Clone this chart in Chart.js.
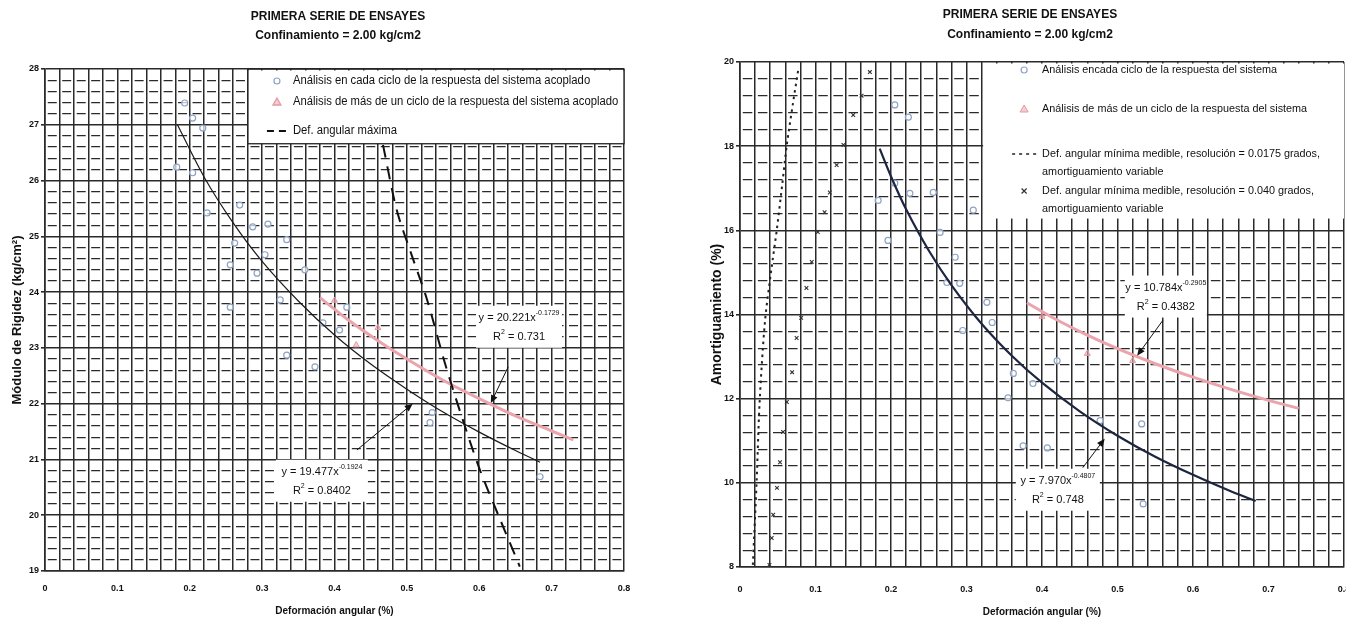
<!DOCTYPE html>
<html lang="es">
<head>
<meta charset="utf-8">
<title>Primera serie de ensayes</title>
<script src="https://cdn.jsdelivr.net/npm/chart.js@4.4.1/dist/chart.umd.min.js"></script>
<style>
    html, body { margin: 0; padding: 0; background: #fff; overflow: hidden; }
    body { width: 1346px; height: 621px; position: relative; }
    canvas { position: absolute; top: 0; }
    #graficoRigidez { left: 0; }
    #graficoAmortiguamiento { left: 680px; }
</style>
</head>
<body>
<canvas id="graficoRigidez" width="672" height="621"></canvas>
<canvas id="graficoAmortiguamiento" width="700" height="621"></canvas>
<script>
// Ticks de los ejes
const ticksDeformacion = [0, 0.1, 0.2, 0.3, 0.4, 0.5, 0.6, 0.7, 0.8];
const ticksRigidez = [19, 20, 21, 22, 23, 24, 25, 26, 27, 28];
const ticksAmortiguamiento = [8, 10, 12, 14, 16, 18, 20];

// ---- Módulo de rigidez ----
// análisis en cada ciclo de la respuesta del sistema acoplado
const defCicloRig = [0.193, 0.204, 0.218, 0.182, 0.204, 0.269, 0.224, 0.287, 0.308, 0.334, 0.262, 0.304, 0.256,
    0.293, 0.359, 0.256, 0.325, 0.384, 0.334, 0.373, 0.407, 0.417, 0.535, 0.532, 0.684];
const rigCiclo = [27.39, 27.12, 26.94, 26.24, 26.14, 25.56, 25.42, 25.17, 25.22, 24.94, 24.88, 24.67, 24.49,
    24.34, 24.40, 23.73, 23.86, 23.45, 22.87, 22.66, 23.32, 23.73, 21.84, 21.66, 20.69];
// análisis de más de un ciclo
const defVariosRig = [0.400, 0.460, 0.430];
const rigVarios = [23.85, 23.36, 23.05];
// def. angular máxima
const defMaxima = [0.467, 0.486, 0.507, 0.528, 0.552, 0.576, 0.601, 0.628, 0.656];
const rigMaxima = [26.64, 25.47, 24.65, 23.86, 22.75, 21.76, 20.81, 19.95, 19.08];
// ajustes potenciales
const defAjusteRig = [0.183, 0.22, 0.26, 0.30, 0.35, 0.40, 0.45, 0.50, 0.55, 0.60, 0.65, 0.684];
const rigAjuste = [27.00, 26.06, 25.24, 24.55, 23.84, 23.23, 22.71, 22.26, 21.85, 21.49, 21.16, 20.95];
const defAjusteRigVarios = [0.38, 0.42, 0.46, 0.50, 0.55, 0.60, 0.65, 0.70, 0.73];
const rigAjusteVarios = [23.90, 23.49, 23.13, 22.80, 22.42, 22.09, 21.78, 21.51, 21.35];

// ---- Amortiguamiento ----
const defCicloAm = [0.205, 0.223, 0.183, 0.205, 0.225, 0.256, 0.309, 0.196, 0.265, 0.285, 0.274, 0.291, 0.327,
    0.334, 0.295, 0.362, 0.355, 0.420, 0.388, 0.407, 0.375, 0.477, 0.532, 0.534];
const amCiclo = [18.98, 18.69, 16.71, 17.12, 16.88, 16.90, 16.48, 15.76, 15.95, 15.36, 14.76, 14.74, 14.29,
    13.81, 13.62, 12.60, 12.02, 12.90, 12.36, 10.83, 10.88, 11.48, 11.40, 9.50];
const defVariosAm = [0.460, 0.520, 0.400];
const amVarios = [13.07, 12.90, 13.95];
// def. angular mínima medible, resolución = 0.0175 grados
const defMin0175 = [0.017, 0.022, 0.026, 0.033, 0.041, 0.049, 0.056, 0.062, 0.070, 0.077];
const amMin0175 = [8.05, 10.02, 11.92, 13.82, 15.00, 16.05, 17.10, 18.03, 19.00, 19.80];
// def. angular mínima medible, resolución = 0.040 grados
const defMin040 = [0.039, 0.042, 0.044, 0.049, 0.053, 0.057, 0.062, 0.069, 0.075, 0.081, 0.088, 0.095, 0.103,
    0.112, 0.119, 0.128, 0.137, 0.150, 0.161, 0.172];
const amMin040 = [8.05, 8.69, 9.24, 9.88, 10.49, 11.21, 11.92, 12.63, 13.44, 13.92, 14.63, 15.25, 15.96,
    16.43, 16.90, 17.55, 18.03, 18.74, 19.20, 19.76];
const defAjusteAm = [0.185, 0.20, 0.22, 0.25, 0.28, 0.32, 0.36, 0.40, 0.45, 0.50, 0.55, 0.60, 0.65, 0.683];
const amAjuste = [17.94, 17.28, 16.50, 15.52, 14.70, 13.78, 13.02, 12.38, 11.70, 11.12, 10.62, 10.19, 9.80, 9.57];
const defAjusteAmVarios = [0.38, 0.42, 0.46, 0.50, 0.55, 0.60, 0.65, 0.70, 0.74];
const amAjusteVarios = [14.28, 13.87, 13.51, 13.19, 12.83, 12.51, 12.22, 11.96, 11.77];

const fuente = "'Liberation Sans', Arial, sans-serif";
const colorGrilla = '#2a2a2a';
const colorCiclo = '#8fa3c3';
const colorVarios = '#e39aa3';
const rellenoVarios = 'rgba(238, 170, 178, 0.6)';

function puntos(xs, ys) {
    return xs.map((x, i) => ({ x: x, y: ys[i] }));
}

function esMultiplo(v, paso) {
    const r = v / paso;
    return Math.abs(r - Math.round(r)) < 1e-6;
}

// texto por partes: [texto, superindice]
function texto(ctx, partes, x, y, tam, escala, alinear, peso) {
    peso = peso || '';
    ctx.save();
    ctx.textBaseline = 'middle';
    ctx.textAlign = 'left';
    ctx.fillStyle = '#111';
    let ancho = 0;
    const medidas = partes.map(p => {
        ctx.font = peso + ' ' + (p[1] ? Math.round(tam * 0.65) : tam) + 'px ' + fuente;
        const w = ctx.measureText(p[0]).width * escala;
        ancho += w;
        return w;
    });
    let x0 = x;
    if (alinear === 'center') x0 = x - ancho / 2;
    partes.forEach((p, i) => {
        ctx.font = peso + ' ' + (p[1] ? Math.round(tam * 0.65) : tam) + 'px ' + fuente;
        ctx.save();
        ctx.translate(x0, y + (p[1] ? -tam * 0.42 : 0));
        ctx.scale(escala, 1);
        ctx.fillText(p[0], 0, 0);
        ctx.restore();
        x0 += medidas[i];
    });
    ctx.restore();
}

function marca(ctx, tipo, x, y) {
    ctx.save();
    if (tipo === 'circulo') {
        ctx.strokeStyle = colorCiclo;
        ctx.lineWidth = 1.2;
        ctx.beginPath();
        ctx.arc(x, y, 3, 0, Math.PI * 2);
        ctx.stroke();
    } else if (tipo === 'triangulo') {
        ctx.fillStyle = rellenoVarios;
        ctx.strokeStyle = colorVarios;
        ctx.beginPath();
        ctx.moveTo(x, y - 4);
        ctx.lineTo(x + 4, y + 3);
        ctx.lineTo(x - 4, y + 3);
        ctx.closePath();
        ctx.fill();
        ctx.stroke();
    } else if (tipo === 'guiones') {
        ctx.strokeStyle = '#111';
        ctx.lineWidth = 2;
        ctx.setLineDash([7, 5]);
        ctx.beginPath();
        ctx.moveTo(x - 10, y);
        ctx.lineTo(x + 13, y);
        ctx.stroke();
    } else if (tipo === 'puntos') {
        ctx.strokeStyle = '#222';
        ctx.lineWidth = 1.6;
        ctx.setLineDash([3, 4]);
        ctx.beginPath();
        ctx.moveTo(x - 12, y);
        ctx.lineTo(x + 12, y);
        ctx.stroke();
    } else if (tipo === 'cruz') {
        ctx.strokeStyle = '#333';
        ctx.lineWidth = 1.2;
        ctx.beginPath();
        ctx.moveTo(x - 2.5, y - 2.5); ctx.lineTo(x + 2.5, y + 2.5);
        ctx.moveTo(x + 2.5, y - 2.5); ctx.lineTo(x - 2.5, y + 2.5);
        ctx.stroke();
    }
    ctx.restore();
}

function flecha(ctx, x1, y1, x2, y2) {
    const ang = Math.atan2(y2 - y1, x2 - x1);
    ctx.save();
    ctx.strokeStyle = '#111';
    ctx.fillStyle = '#111';
    ctx.lineWidth = 1;
    ctx.beginPath();
    ctx.moveTo(x1, y1);
    ctx.lineTo(x2 - 6 * Math.cos(ang), y2 - 6 * Math.sin(ang));
    ctx.stroke();
    ctx.beginPath();
    ctx.moveTo(x2, y2);
    ctx.lineTo(x2 - 8 * Math.cos(ang) + 3.5 * Math.sin(ang), y2 - 8 * Math.sin(ang) - 3.5 * Math.cos(ang));
    ctx.lineTo(x2 - 8 * Math.cos(ang) - 3.5 * Math.sin(ang), y2 - 8 * Math.sin(ang) + 3.5 * Math.cos(ang));
    ctx.closePath();
    ctx.fill();
    ctx.restore();
}

// leyenda, ecuaciones de ajuste, flechas y títulos
const pluginNotas = {
    id: 'notas',
    afterDatasetsDraw(chart, args, opts) {
        const ctx = chart.ctx;
        const sx = chart.scales.x, sy = chart.scales.y;
        const px = v => sx.getPixelForValue(v);
        const py = v => sy.getPixelForValue(v);

        (opts.ecuaciones || []).forEach(e => {
            const cx = px(e.x), cy = py(e.y);
            ctx.fillStyle = '#fff';
            ctx.fillRect(cx - e.ancho / 2, cy - 12, e.ancho, 42);
            texto(ctx, [[e.base, false], [e.expo, true]], cx, cy, 11, 1, 'center');
            texto(ctx, [['R', false], ['2', true], [' = ' + e.r2, false]], cx, cy + 19, 11, 1, 'center');
        });
        (opts.flechas || []).forEach(f => flecha(ctx, px(f[0]), py(f[1]), px(f[2]), py(f[3])));

        const l = opts.leyenda;
        const x1 = px(l.desde[0]), y1 = py(l.desde[1]);
        const x2 = px(l.hasta[0]), y2 = py(l.hasta[1]);
        ctx.fillStyle = '#fff';
        ctx.fillRect(x1, y1 + 1.5, x2 - x1, y2 - y1 - 1.5);
        if (l.borde) {
            ctx.strokeStyle = '#222';
            ctx.lineWidth = 1.3;
            ctx.strokeRect(x1, y1, x2 - x1, y2 - y1);
        }
        l.filas.forEach(f => {
            const my = y1 + f.y;
            marca(ctx, f.marca, x1 + l.marcaX, my);
            f.texto.forEach((t, i) => texto(ctx, [[t, false]], x1 + l.textoX, my + i * 18, l.tam, l.escala, 'left'));
        });
    },
    afterDraw(chart, args, opts) {
        const t = opts.titulo;
        t.lineas.forEach((linea, i) => texto(chart.ctx, [[linea, false]], t.x, t.y[i], 12, 1, 'center', 'bold'));
    }
};

function escalas(cfg) {
    return {
        x: {
            type: 'linear', min: 0, max: 0.8,
            afterFit: s => { s.height = cfg.altoX; },
            ticks: {
                stepSize: 0.02, autoSkip: false, maxRotation: 0, minRotation: 0,
                padding: cfg.padTicksX, color: '#111',
                font: { family: fuente, size: 9, weight: 'bold' },
                callback: v => ticksDeformacion.some(t => Math.abs(t - v) < 1e-6) ? (v === 0 ? '0' : v.toFixed(1)) : ''
            },
            grid: { color: colorGrilla, lineWidth: 1.5, drawTicks: false },
            border: { color: colorGrilla, width: 1.6 },
            title: {
                display: true, text: 'Deformación angular (%)', color: '#111',
                font: { family: fuente, size: 10, weight: 'bold' },
                padding: { top: 0, bottom: cfg.padTituloX }
            }
        },
        y: {
            type: 'linear', position: 'left', min: cfg.min, max: cfg.max,
            afterFit: s => { s.width = cfg.anchoY; },
            ticks: {
                stepSize: cfg.paso, padding: 2, color: '#111',
                font: { family: fuente, size: 9, weight: 'bold' },
                callback: v => cfg.ticks.includes(v) ? String(v) : ''
            },
            grid: { color: colorGrilla, lineWidth: 1.6, tickLength: 4 },
            border: { color: colorGrilla, width: 1.6 },
            title: {
                display: true, text: cfg.tituloY, color: '#111',
                font: { family: fuente, size: cfg.tamTituloY, weight: 'bold' },
                padding: { top: cfg.padTituloY, bottom: 0 }
            }
        },
        yMenor: {
            type: 'linear', axis: 'y', position: 'left', min: cfg.min, max: cfg.max,
            afterFit: s => { s.width = 0; },
            ticks: { display: false, stepSize: cfg.paso / 5, autoSkip: false },
            grid: {
                drawTicks: false, lineWidth: 1.2,
                color: ctx => esMultiplo(ctx.tick.value, cfg.paso) ? 'rgba(0,0,0,0)' : colorGrilla
            },
            border: { display: false, dash: cfg.guion, dashOffset: cfg.guion[0] + cfg.guion[1] / 2 }
        }
    };
}

function serie(etiqueta, datos, estilo) {
    return Object.assign({ label: etiqueta, data: datos, xAxisID: 'x', yAxisID: 'y' }, estilo);
}

const opcionesBase = {
    responsive: false,
    animation: false,
    events: []
};

// Módulo de rigidez
var configRigidez = {
    type: 'scatter',
    data: {
        datasets: [
            serie('Def. angular máxima', puntos(defMaxima, rigMaxima), {
                showLine: true, borderColor: '#111', borderWidth: 2, borderDash: [13, 9], pointRadius: 0, tension: 0.3
            }),
            serie('Ajuste ciclo', puntos(defAjusteRig, rigAjuste), {
                showLine: true, borderColor: '#1a1a1a', borderWidth: 1.2, pointRadius: 0, tension: 0.3
            }),
            serie('Análisis en cada ciclo de la respuesta del sistema acoplado', puntos(defCicloRig, rigCiclo), {
                pointStyle: 'circle', pointRadius: 3, borderColor: colorCiclo, borderWidth: 1.2,
                backgroundColor: 'rgba(255,255,255,0.7)'
            }),
            serie('Análisis de más de un ciclo de la respuesta del sistema acoplado', puntos(defVariosRig, rigVarios), {
                pointStyle: 'triangle', pointRadius: 3.5, borderColor: colorVarios, borderWidth: 1,
                backgroundColor: rellenoVarios
            }),
            serie('Ajuste más de un ciclo', puntos(defAjusteRigVarios, rigAjusteVarios), {
                showLine: true, borderColor: '#eba4ab', borderWidth: 3, pointRadius: 0, tension: 0.3
            })
        ]
    },
    options: Object.assign({}, opcionesBase, {
        layout: { padding: { left: 0, right: 48, top: 69, bottom: 0 } },
        scales: escalas({
            min: 19, max: 28, paso: 1, ticks: ticksRigidez, anchoY: 45, altoX: 50,
            padTicksX: 12, padTituloX: 4, padTituloY: 10, tamTituloY: 13,
            tituloY: 'Módulo de Rigidez (kg/cm²)', guion: [9, 5.48]
        }),
        plugins: {
            legend: { display: false },
            tooltip: { enabled: false },
            notas: {
                titulo: { x: 338, y: [17, 36], lineas: ['PRIMERA SERIE DE ENSAYES', 'Confinamiento = 2.00 kg/cm2'] },
                leyenda: {
                    desde: [0.2804, 28], hasta: [0.8, 26.66], borde: true, marcaX: 29, textoX: 45,
                    tam: 12, escala: 0.94,
                    filas: [
                        { marca: 'circulo', y: 12, texto: ['Análisis en cada ciclo de la respuesta del sistema acoplado'] },
                        { marca: 'triangulo', y: 33, texto: ['Análisis de más de un ciclo de la respuesta del sistema acoplado'] },
                        { marca: 'guiones', y: 62, texto: ['Def. angular máxima'] }
                    ]
                },
                ecuaciones: [
                    { x: 0.655, y: 23.54, ancho: 86, base: 'y = 20.221x', expo: '-0.1729', r2: '0.731' },
                    { x: 0.3826, y: 20.78, ancho: 92, base: 'y = 19.477x', expo: '-0.1924', r2: '0.8402' }
                ],
                flechas: [
                    [0.640, 22.66, 0.616, 22.01],
                    [0.431, 21.17, 0.508, 22.0]
                ]
            }
        }
    }),
    plugins: [pluginNotas]
};

// Amortiguamiento
var configAmortiguamiento = {
    type: 'scatter',
    data: {
        datasets: [
            serie('Ajuste ciclo', puntos(defAjusteAm, amAjuste), {
                showLine: true, borderColor: '#1d2541', borderWidth: 2.2, pointRadius: 0, tension: 0.3
            }),
            serie('Def. angular mínima medible, resolución = 0.0175 grados', puntos(defMin0175, amMin0175), {
                showLine: true, borderColor: '#222', borderWidth: 2, borderDash: [2.5, 4], pointRadius: 0, tension: 0.3
            }),
            serie('Def. angular mínima medible, resolución = 0.040 grados', puntos(defMin040, amMin040), {
                pointStyle: 'crossRot', pointRadius: 2.6, borderColor: '#333', borderWidth: 1.1
            }),
            serie('Análisis encada ciclo de la respuesta del sistema', puntos(defCicloAm, amCiclo), {
                pointStyle: 'circle', pointRadius: 3, borderColor: colorCiclo, borderWidth: 1.2,
                backgroundColor: 'rgba(255,255,255,0.7)'
            }),
            serie('Análisis de más de un ciclo de la respuesta del sistema', puntos(defVariosAm, amVarios), {
                pointStyle: 'triangle', pointRadius: 3.5, borderColor: colorVarios, borderWidth: 1,
                backgroundColor: rellenoVarios
            }),
            serie('Ajuste más de un ciclo', puntos(defAjusteAmVarios, amAjusteVarios), {
                showLine: true, borderColor: '#eba4ab', borderWidth: 3, pointRadius: 0, tension: 0.3
            })
        ]
    },
    options: Object.assign({}, opcionesBase, {
        layout: { padding: { left: 0, right: 36, top: 62, bottom: 0 } },
        scales: escalas({
            min: 8, max: 20, paso: 2, ticks: ticksAmortiguamiento, anchoY: 60, altoX: 54,
            padTicksX: 17, padTituloX: 3, padTituloY: 29, tamTituloY: 14,
            tituloY: 'Amortiguamiento (%)', guion: [9.5, 5.6]
        }),
        plugins: {
            legend: { display: false },
            tooltip: { enabled: false },
            notas: {
                titulo: { x: 350, y: [15, 35], lineas: ['PRIMERA SERIE DE ENSAYES', 'Confinamiento = 2.00 kg/cm2'] },
                leyenda: {
                    desde: [0.322, 20], hasta: [0.8, 16.28], borde: false, marcaX: 41, textoX: 59,
                    tam: 11.5, escala: 0.94,
                    filas: [
                        { marca: 'circulo', y: 8, texto: ['Análisis encada ciclo de la respuesta del sistema'] },
                        { marca: 'triangulo', y: 47, texto: ['Análisis de más de un ciclo de la respuesta del sistema'] },
                        { marca: 'puntos', y: 92, texto: ['Def. angular mínima medible, resolución = 0.0175 grados,', 'amortiguamiento variable'] },
                        { marca: 'cruz', y: 129, texto: ['Def. angular mínima medible, resolución = 0.040 grados,', 'amortiguamiento variable'] }
                    ]
                },
                ecuaciones: [
                    { x: 0.564, y: 14.64, ancho: 82, base: 'y = 10.784x', expo: '-0.2905', r2: '0.4382' },
                    { x: 0.421, y: 10.05, ancho: 84, base: 'y = 7.970x', expo: '-0.4807', r2: '0.748' }
                ],
                flechas: [
                    [0.560, 13.86, 0.526, 13.02],
                    [0.454, 10.36, 0.483, 11.05]
                ]
            }
        }
    }),
    plugins: [pluginNotas]
};

var graficoRigidez = new Chart(document.getElementById('graficoRigidez'), configRigidez);
var graficoAmortiguamiento = new Chart(document.getElementById('graficoAmortiguamiento'), configAmortiguamiento);
console.log(graficoRigidez.chartArea, graficoAmortiguamiento.chartArea);
</script>
</body>
</html>
